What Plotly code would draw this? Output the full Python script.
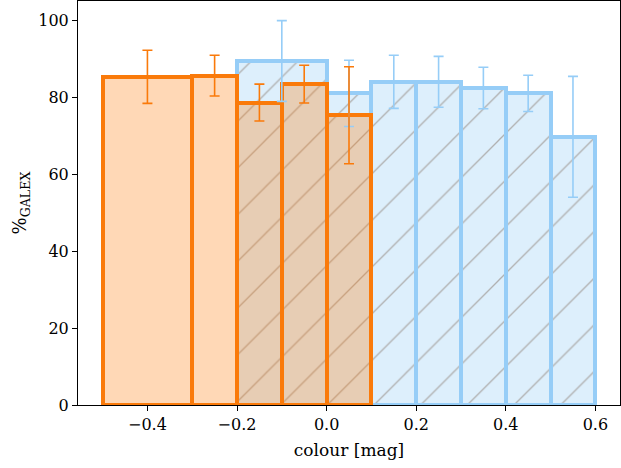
import plotly.graph_objects as go

# ---- data ----
orange_edges = [-0.5, -0.3, -0.2, -0.1, 0.0, 0.1]
orange_values = [85.3, 85.6, 78.6, 83.4, 75.3]
orange_errors = [6.9, 5.3, 4.8, 4.9, 12.6]

blue_edges = [-0.2, 0.0, 0.1, 0.2, 0.3, 0.4, 0.5, 0.6]
blue_values = [89.4, 81.0, 84.0, 84.0, 82.4, 81.0, 69.7]
blue_errors = [10.5, 8.6, 6.9, 6.6, 5.4, 4.7, 15.7]

x_ticks = [-0.4, -0.2, 0.0, 0.2, 0.4, 0.6]
y_ticks = [0, 20, 40, 60, 80, 100]


def centers(edges):
    return [(a + b) / 2 for a, b in zip(edges[:-1], edges[1:])]


def widths(edges):
    return [b - a for a, b in zip(edges[:-1], edges[1:])]


ORANGE = "rgb(250,122,10)"
ORANGE_FILL = "rgba(255,127,14,0.3)"
BLUE = "rgb(150,205,247)"
BLUE_FILL = "rgb(221,239,252)"
HATCH = "rgb(176,176,176)"
FONT = "DejaVu Serif"

fig = go.Figure()

fig.add_trace(go.Bar(
    x=centers(blue_edges), y=blue_values, width=widths(blue_edges),
    marker=dict(
        color=BLUE_FILL,
        line=dict(color=BLUE, width=4),
        pattern=dict(shape="/", fgcolor=HATCH, bgcolor=BLUE_FILL,
                     size=33, solidity=0.04, fillmode="replace"),
    ),
    showlegend=False, hoverinfo="skip",
))

fig.add_trace(go.Bar(
    x=centers(orange_edges), y=orange_values, width=widths(orange_edges),
    marker=dict(color=ORANGE_FILL, line=dict(color=ORANGE, width=4)),
    showlegend=False, hoverinfo="skip",
))

fig.add_trace(go.Scatter(
    x=centers(blue_edges), y=blue_values, mode="markers",
    marker=dict(size=1, opacity=0),
    error_y=dict(type="data", array=blue_errors, color=BLUE, thickness=1.6, width=5),
    showlegend=False, hoverinfo="skip",
))

fig.add_trace(go.Scatter(
    x=centers(orange_edges), y=orange_values, mode="markers",
    marker=dict(size=1, opacity=0),
    error_y=dict(type="data", array=orange_errors, color=ORANGE, thickness=1.6, width=5),
    showlegend=False, hoverinfo="skip",
))

axis_common = dict(
    showline=True, linecolor="black", linewidth=1, mirror=True,
    ticks="outside", ticklen=5, tickwidth=1, tickcolor="black",
    showgrid=False, zeroline=False,
    tickfont=dict(family=FONT, size=16, color="black"),
)

fig.update_layout(
    width=621, height=468,
    margin=dict(l=78, r=1, t=1, b=63),
    plot_bgcolor="white", paper_bgcolor="white",
    barmode="overlay", bargap=0,
    xaxis=dict(
        range=[-0.555, 0.655], tickvals=x_ticks, tickformat=".1f",
        title=dict(text="colour [mag]", font=dict(family=FONT, size=17, color="black"), standoff=10),
        **axis_common,
    ),
    yaxis=dict(
        range=[0, 105], tickvals=y_ticks,
        title=dict(text="%<sub>GALEX</sub>", font=dict(family=FONT, size=18, color="black"), standoff=6),
        **axis_common,
    ),
)

fig.write_html("out.html")
